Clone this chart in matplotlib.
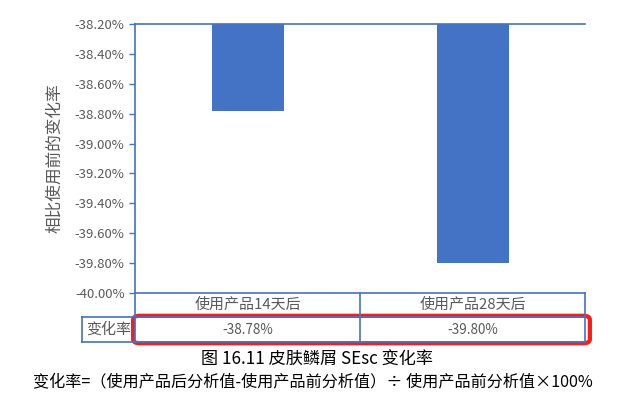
import matplotlib.pyplot as plt
from matplotlib.patches import FancyBboxPatch
from matplotlib.lines import Line2D
from matplotlib.ticker import FuncFormatter

plt.rcParams['font.family'] = ['Noto Sans CJK SC', 'DejaVu Sans']

# data
categories = ["使用产品14天后", "使用产品28天后"]
values = [-38.78, -39.80]          # change rate [%]
value_labels = ["-38.78%", "-39.80%"]
yticks = [-38.2, -38.4, -38.6, -38.8, -39.0, -39.2, -39.4, -39.6, -39.8, -40.0]
ylabel = "相比使用前的变化率"
row_label = "变化率"
caption = "图 16.11 皮肤鳞屑 SEsc 变化率"
formula = "变化率=（使用产品后分析值-使用产品前分析值）÷ 使用产品前分析值×100%"

W, H = 634, 409
BLUE = "#4472C4"
GRAY = "#595959"

fig = plt.figure(figsize=(W / 100, H / 100), dpi=100)


def fx(px):
    return px / W


def fy(py):
    return 1 - py / H


# axes area in pixels
ax_l, ax_r, ax_t, ax_b = 135, 585, 24, 293
ax = fig.add_axes([fx(ax_l), fy(ax_b), fx(ax_r - ax_l), (ax_b - ax_t) / H])

top = max(yticks)
x = list(range(len(categories)))
ax.bar(x, [v - top for v in values], bottom=top, width=0.32, color=BLUE)
ax.set_xlim(-0.5, len(categories) - 0.5)
ax.set_ylim(min(yticks), top)
ax.set_yticks(yticks)
ax.yaxis.set_major_formatter(FuncFormatter(lambda v, p: "%.2f%%" % v))
ax.set_xticks([])
ax.tick_params(axis="y", colors=BLUE, labelcolor=GRAY, labelsize=9.5,
               length=4, width=1)
for s in ["left", "top", "bottom"]:
    ax.spines[s].set_color(BLUE)
    ax.spines[s].set_linewidth(1.2)
ax.spines["right"].set_visible(False)
fig.text(fx(55), fy(158), ylabel, rotation=90, ha="center", va="center",
         color=GRAY, fontsize=12)

# table under the axes
row1_b, row2_b = 317, 342
lines = [
    ((ax_l, ax_l), (ax_b, row2_b)),
    ((ax_r, ax_r), (ax_b, row2_b)),
    ((82, ax_r), (row1_b, row1_b)),
    ((82, ax_r), (row2_b, row2_b)),
    ((82, 82), (row1_b, row2_b)),
]
n = len(categories)
for i in range(1, n):
    xm = ax_l + (ax_r - ax_l) * i / n
    lines.append(((xm, xm), (ax_b, row2_b)))
for xs, ys in lines:
    fig.add_artist(Line2D([fx(v) for v in xs], [fy(v) for v in ys],
                          color=BLUE, lw=1.2))

for i, (c, lab) in enumerate(zip(categories, value_labels)):
    xc = ax_l + (ax_r - ax_l) * (i + 0.5) / n
    fig.text(fx(xc), fy((ax_b + row1_b) / 2), c, ha="center", va="center",
             color=GRAY, fontsize=10.8)
    fig.text(fx(xc), fy((row1_b + row2_b) / 2), lab, ha="center", va="center",
             color=GRAY, fontsize=9.7)
fig.text(fx((82 + ax_l) / 2), fy((row1_b + row2_b) / 2), row_label,
         ha="center", va="center", color=GRAY, fontsize=10.8)

# red highlight box
fig.add_artist(FancyBboxPatch((fx(135), fy(342)), fx(453), (342 - 317) / H,
                              boxstyle="round,pad=0.003,rounding_size=0.01",
                              fill=False, ec="#FF1A1A", lw=3,
                              transform=fig.transFigure))

fig.text(fx(317), fy(360), caption, ha="center", va="center",
         color="black", fontsize=12.3)
fig.text(fx(313), fy(383), formula, ha="center", va="center",
         color="black", fontsize=11.6, style="italic")

fig.savefig("out.png", dpi=100)
